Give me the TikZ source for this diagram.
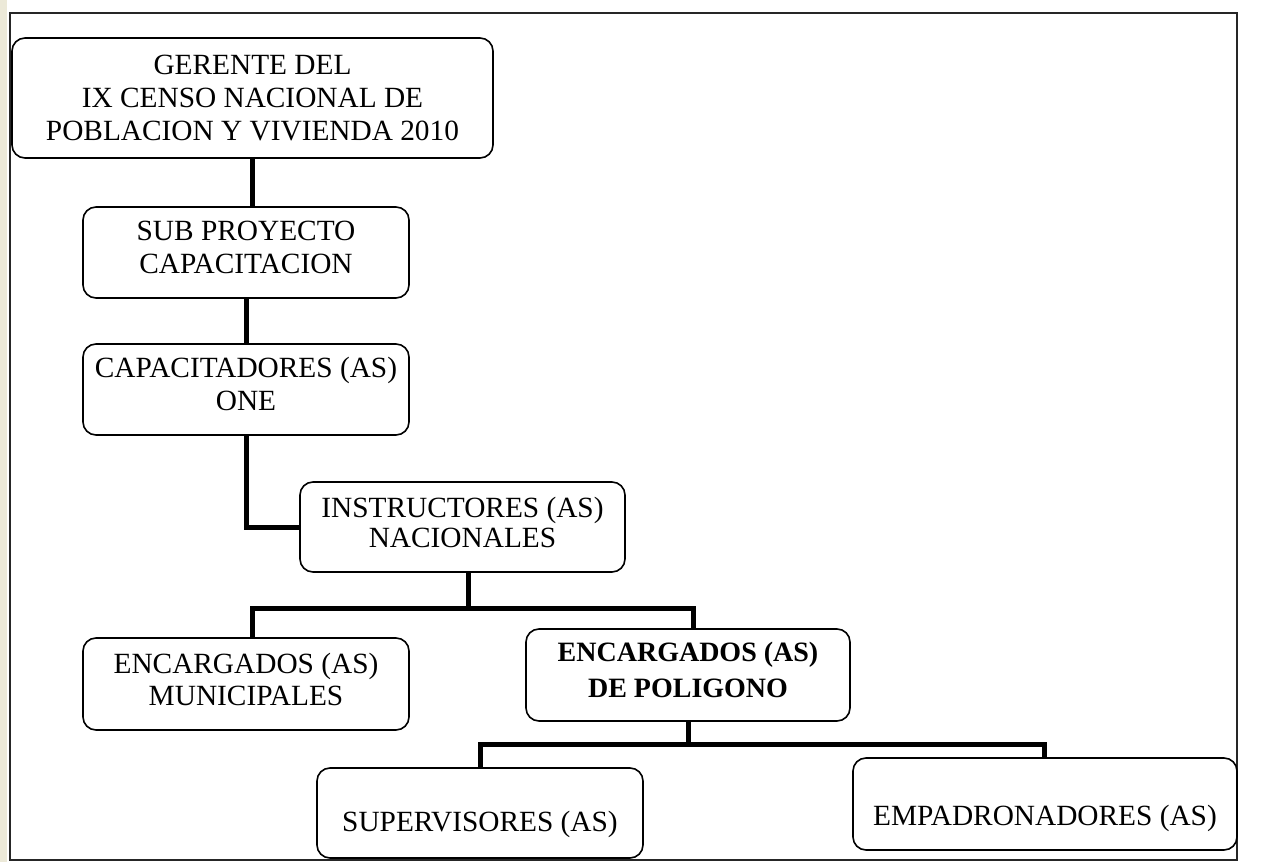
\documentclass[tikz,border=0pt]{standalone}
\usepackage{fontspec}
\setmainfont{Liberation Serif}
\definecolor{strip}{HTML}{ECE9D8}
\begin{document}
\begin{tikzpicture}[x=0.75pt,y=-0.75pt,
  box/.style={draw=black,line width=1.6*0.75pt,rounded corners=13*0.75pt,inner sep=0pt,outer sep=0pt,fill=white},
  txt/.style={inner sep=0pt,align=center,font=\fontsize{22pt}{24.75pt}\selectfont},
  conn/.style={line width=5*0.75pt,line join=miter,line cap=butt}]
\useasboundingbox (0,0) rectangle (1281,862);
\fill[strip] (0,0) rectangle (7,862);
\draw[line width=2*0.75pt,black!85] (10,13) rectangle (1237,860);

% boxes
\node[box,minimum width=481*0.75pt,minimum height=120*0.75pt] (G) at (252.5,98) {};
\node[box,minimum width=326*0.75pt,minimum height=91*0.75pt] (S) at (246,252.5) {};
\node[box,minimum width=326*0.75pt,minimum height=91*0.75pt] (C) at (246,389.5) {};
\node[box,minimum width=325*0.75pt,minimum height=90*0.75pt] (I) at (462.5,527) {};
\node[box,minimum width=326*0.75pt,minimum height=92*0.75pt] (M) at (246,684) {};
\node[box,minimum width=324*0.75pt,minimum height=92*0.75pt] (P) at (688,675) {};
\node[box,minimum width=326*0.75pt,minimum height=90*0.75pt] (Su) at (480,813) {};
\node[box,minimum width=384*0.75pt,minimum height=92*0.75pt] (E) at (1045,804) {};

% texts
\node[txt] (Gt) at (252.5,98) {GERENTE DEL\\IX CENSO NACIONAL DE\\POBLACION Y VIVIENDA 2010};
\node[txt] (St) at (246,247) {SUB PROYECTO\\CAPACITACION};
\node[txt] (Ct) at (246,384) {CAPACITADORES (AS)\\ONE};
\node[txt,font=\fontsize{22pt}{22.5pt}\selectfont] (It) at (462.5,522) {INSTRUCTORES (AS)\\NACIONALES};
\node[txt,font=\fontsize{22pt}{24pt}\selectfont] (Mt) at (246,679) {ENCARGADOS (AS)\\MUNICIPALES};
\node[txt,font=\fontsize{21pt}{27.5pt}\selectfont\bfseries] (Pt) at (688,670) {ENCARGADOS (AS)\\DE POLIGONO};
\node[txt] (Sut) at (480,824) {SUPERVISORES (AS)};
\node[txt] (Et) at (1045,818) {EMPADRONADORES (AS)};

% junction points
\coordinate (j1) at (468,608);
\coordinate (j1L) at (252,608);
\coordinate (j1R) at (693,608);
\coordinate (j2) at (688,744);
\coordinate (j2L) at (480,744);
\coordinate (j2R) at (1044,744);
\coordinate (gs) at (252,0);

% connectors
\draw[conn] (G.south -| gs) -- (S.north -| gs);
\draw[conn] (S.south) -- (C.north);
\draw[conn] (C.south) |- (I.west);
\draw[conn] (I.south -| j1) -- (j1);
\draw[conn] (M.north -| j1L) -- (j1L) -- (j1R) -- (P.north -| j1R);
\draw[conn] (P.south) -- (j2);
\draw[conn] (Su.north -| j2L) -- (j2L) -- (j2R) -- (E.north -| j2R);
\end{tikzpicture}
\end{document}
